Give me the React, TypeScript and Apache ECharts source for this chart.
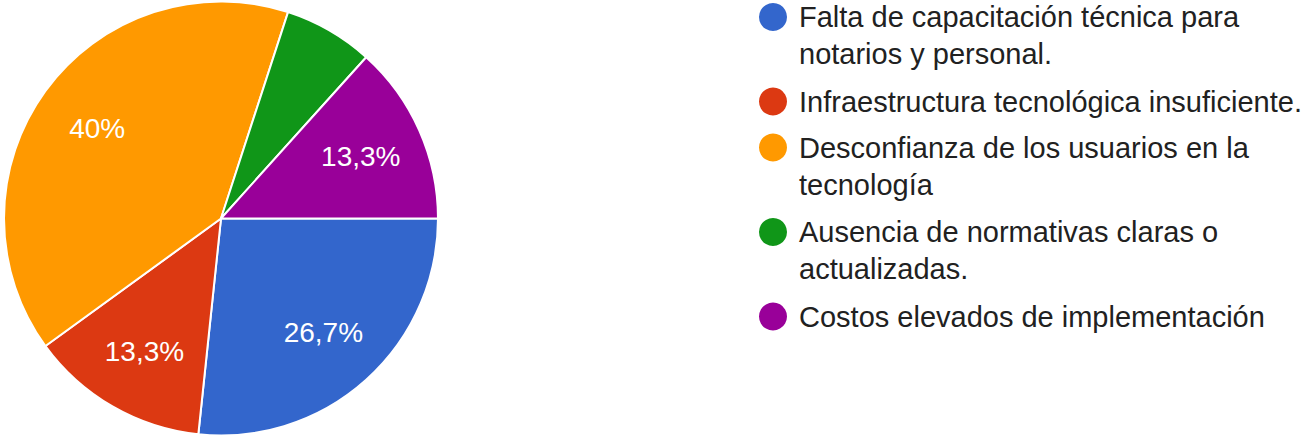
import React, { useEffect, useRef } from "react";
import * as echarts from "echarts";

const categories = [
  "Falta de capacitación técnica para notarios y personal.",
  "Infraestructura tecnológica insuficiente.",
  "Desconfianza de los usuarios en la tecnología",
  "Ausencia de normativas claras o actualizadas.",
  "Costos elevados de implementación",
];
const legendLines = [
  ["Falta de capacitación técnica para", "notarios y personal."],
  ["Infraestructura tecnológica insuficiente."],
  ["Desconfianza de los usuarios en la", "tecnología"],
  ["Ausencia de normativas claras o", "actualizadas."],
  ["Costos elevados de implementación"],
];
const counts = [4, 2, 6, 1, 2];
const colors = ["#3366cc", "#dc3912", "#ff9900", "#109618", "#990099"];

const FONT = "Arial, 'Liberation Sans', sans-serif";

export default function App() {
  const ref = useRef<HTMLDivElement>(null);
  useEffect(() => {
    document.body.style.margin = "0";
    if (!ref.current) return;
    const chart = echarts.init(ref.current, undefined, { renderer: "svg" });
    const data = categories.map((name, i) => ({
      name,
      value: counts[i],
      itemStyle: { color: colors[i] },
    }));

    const graphics: any[] = [];
    let yc = 17;
    const lineH = 37;
    legendLines.forEach((lines, i) => {
      graphics.push({
        type: "circle",
        shape: { cx: 773, cy: yc, r: 14 },
        style: { fill: colors[i] },
      });
      graphics.push({
        type: "text",
        x: 799,
        y: yc - lineH / 2,
        style: {
          text: lines.join("\n"),
          fontSize: 29,
          fontFamily: FONT,
          fill: "#212121",
          lineHeight: lineH,
          verticalAlign: "top",
        },
      });
      yc += lines.length * 38.5 + 7.5;
    });

    chart.setOption({
      animation: false,
      graphic: graphics,
      series: [
        {
          type: "pie",
          center: [221, 218.5],
          radius: [0, 217],
          startAngle: 0,
          clockwise: true,
          data,
          label: { show: false },
          labelLine: { show: false },
          itemStyle: { borderColor: "#ffffff", borderWidth: 2 },
          emphasis: { disabled: true },
          silent: true,
        },
        {
          type: "pie",
          center: [221, 218.5],
          radius: [83, 217],
          startAngle: 0,
          clockwise: true,
          percentPrecision: 1,
          data: data.map((d) => ({ ...d, itemStyle: { color: "transparent" } })),
          itemStyle: { borderWidth: 0 },
          labelLine: { show: false },
          emphasis: { disabled: true },
          silent: true,
          label: {
            show: true,
            position: "inside",
            color: "#ffffff",
            fontSize: 28,
            fontFamily: FONT,
            textBorderWidth: 0,
            formatter: (p: any) =>
              p.percent < 10 ? "" : String(p.percent).replace(".", ",") + "%",
          },
        },
      ],
    });
    return () => chart.dispose();
  }, []);
  return <div ref={ref} style={{ width: 1302, height: 435 }} />;
}
